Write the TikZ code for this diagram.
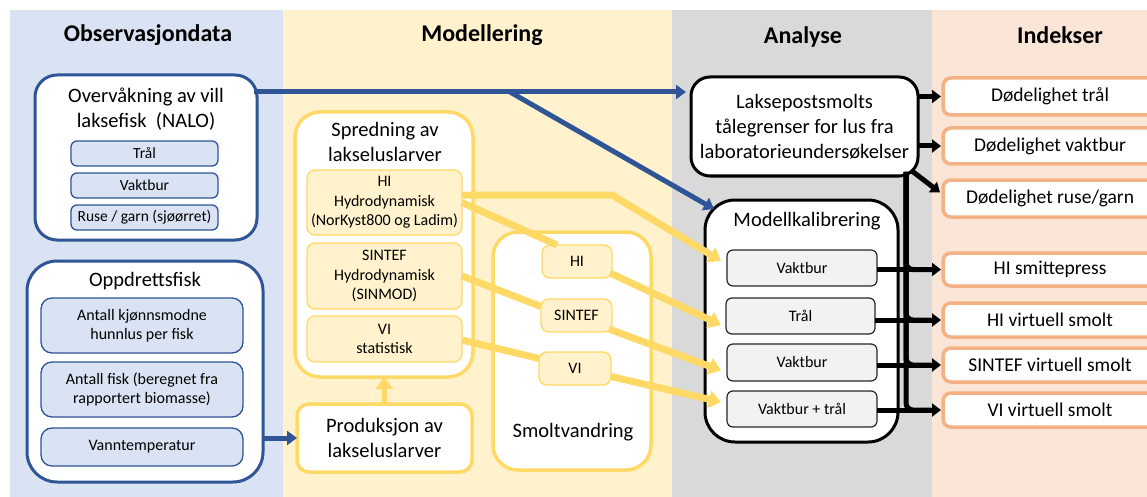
\documentclass[tikz,border=0pt]{standalone}
\usepackage{fontspec}
\setmainfont{Carlito}
\usetikzlibrary{arrows.meta,calc}
\definecolor{colA}{HTML}{DAE3F3}
\definecolor{colB}{HTML}{FFF2CC}
\definecolor{colC}{HTML}{D9D9D9}
\definecolor{colD}{HTML}{FBE5D6}
\definecolor{bluS}{HTML}{2F5597}
\definecolor{yelS}{HTML}{FFD966}
\definecolor{oraS}{HTML}{F4B183}
\definecolor{grayF}{HTML}{F2F2F2}
\begin{document}
\begin{tikzpicture}[x=1pt,y=-1pt,
  every node/.style={inner sep=0pt, outer sep=0pt, text=black},
  wh/.style 2 args={minimum width=#1pt, minimum height=#2pt},
  ttl/.style={font=\bfseries\fontsize{24}{28}\selectfont},
  txt/.style={font=\fontsize{20.5}{25}\selectfont, align=center},
  outerblue/.style={draw=bluS, line width=3pt, fill=white, rounded corners=22pt},
  innerblue/.style={draw=bluS, line width=1.3pt, fill=colA, rounded corners=6pt, font=\fontsize{15.5}{18}\selectfont, align=center},
  innerblueb/.style={draw=bluS, line width=1.3pt, fill=colA, rounded corners=11pt, font=\fontsize{16}{19}\selectfont, align=center},
  outeryel/.style={draw=yelS, line width=3.5pt, fill=white, rounded corners=25pt},
  inneryel/.style={draw=yelS, line width=1.3pt, fill=colB, rounded corners=8pt, font=\fontsize{16}{19.5}\selectfont, align=center},
  blkbox/.style={draw=black, line width=3pt, fill=white, rounded corners=19pt},
  innergray/.style={draw=black!85, line width=1.2pt, fill=grayF, rounded corners=6pt, font=\fontsize{16}{19}\selectfont},
  idx/.style={draw=oraS, line width=3.5pt, fill=white, rounded corners=8pt, font=\fontsize{19.5}{23}\selectfont},
  bluarr/.style={draw=bluS, line width=5pt, -{Triangle[length=10pt,width=14pt]}},
  yelarr/.style={draw=yelS, line width=7pt, -{Triangle[length=12pt,width=17pt]}},
  yelln/.style={draw=yelS, line width=7pt},
  blkarr/.style={draw=black, line width=5pt, -{Triangle[length=9pt,width=13pt]}},
  blkln/.style={draw=black, line width=5pt}
]
\useasboundingbox (0,0) rectangle (1147,497);
\clip (0,0) rectangle (1147,497);
\fill[white] (0,0) rectangle (1147,497);
\fill[colA] (10,10) rectangle (283,497);
\fill[colB] (283,10) rectangle (672,497);
\fill[colC] (672,10) rectangle (932,497);
\fill[colD] (932,10) rectangle (1147,497);

% titles
\node[ttl] (t1) at (148,35) {Observasjondata};
\node[ttl] (t2) at (482,35) {Modellering};
\node[ttl] (t3) at (803,37) {Analyse};
\node[ttl] (t4) at (1060,35) {Indekser};

% Observasjondata
\node[outerblue, wh={222}{165}] (nalo) at (146,157.5) {};
\node[txt] (nalot) at (146,109.5) {Overvåkning av vill\\laksefisk\ \ (NALO)};
\node[innerblue, wh={147}{25}] (n1) at (144.5,153.5) {Trål};
\node[innerblue, wh={147}{25}] (n2) at (144.5,185.5) {Vaktbur};
\node[innerblue, wh={147}{25}] (n3) at (144.5,217.5) {Ruse / garn (sjøørret)};

\node[outerblue, rounded corners=30pt, wh={236}{221}] (opp) at (145,371.5) {};
\node[txt] (oppt) at (145,281) {Oppdrettsfisk};
\node[innerblueb, wh={202}{55}] (o1) at (142,325.5) {Antall kjønnsmodne\\hunnlus per fisk};
\node[innerblueb, wh={202}{55}] (o2) at (142,389.5) {Antall fisk (beregnet fra\\rapportert biomasse)};
\node[innerblueb, wh={202}{38}] (o3) at (142,447) {Vanntemperatur};

% Modellering
\node[outeryel, wh={178}{265}] (spr) at (384,244.5) {};
\node[txt] (sprt) at (385,141.5) {Spredning av\\lakseluslarver};
\node[inneryel, wh={155}{65}] (his) at (384.5,202.5) {HI\\Hydrodynamisk\\(NorKyst800 og Ladim)};
\node[inneryel, wh={155}{66}] (sins) at (384.5,276) {SINTEF\\Hydrodynamisk\\(SINMOD)};
\node[inneryel, wh={155}{46}] (vis) at (384.5,339) {VI\\statistisk};

\node[outeryel, txt, rounded corners=12pt, wh={175}{68}] (prod) at (384.5,438) {Produksjon av\\lakseluslarver};

\node[outeryel, wh={158}{238}] (smolt) at (572,351) {};
\node[txt] (smoltt) at (573,432) {Smoltvandring};
\node[inneryel, wh={70}{33}] (hism) at (577,261.5) {HI};
\node[inneryel, wh={71}{33}] (sinsm) at (576.5,315.5) {SINTEF};
\node[inneryel, wh={72}{33}] (vism) at (575,368.5) {VI};

% Analyse
\node[blkbox, txt, wh={227}{99}] (lakse) at (804.5,126.5) {Laksepostsmolts\\tålegrenser for lus fra\\laboratorieundersøkelser};
\node[blkbox, rounded corners=30pt, wh={193}{242}] (mod) at (801.5,321) {};
\node[txt] (modt) at (807,221) {Modellkalibrering};
\node[innergray, wh={150}{36}] (m1) at (802,268) {Vaktbur};
\node[innergray, wh={149}{36}] (m2) at (800.5,316) {Trål};
\node[innergray, wh={150}{37}] (m3) at (802,362.5) {Vaktbur};
\node[innergray, wh={150}{36}] (m4) at (802,409) {Vaktbur + trål};

% Indekser
\node[idx, wh={214}{37}] (d1) at (1050,96.5) {Dødelighet trål};
\node[idx, wh={214}{36}] (d2) at (1050,146) {Dødelighet vaktbur};
\node[idx, wh={214}{37}] (d3) at (1050,198.5) {Dødelighet ruse/garn};
\node[idx, wh={214}{33}] (i1) at (1050,269.5) {HI smittepress};
\node[idx, wh={214}{34}] (i2) at (1050,320) {HI virtuell smolt};
\node[idx, wh={214}{34}] (i3) at (1050,365) {SINTEF virtuell smolt};
\node[idx, wh={214}{34}] (i4) at (1050,410) {VI virtuell smolt};

% blue connectors
\coordinate (br) at (510,92);
\draw[bluarr] ($(nalo.east |- 0,92)+(-3,0)$) -- ($(lakse.west |- 0,92)+(-5,0)$);
\draw[bluarr] (br) -- ($(mod.north west)+(9,9)$);
\draw[bluarr] (opp.east |- prod.west) -- (prod.west);

% yellow connectors
\draw[yelarr] (his.east |- 0,195) -- (hism.east |- 0,195) -- ($(m1.west)+(-6,-7)$);
\draw[yelln] (his.east) -- ($(hism.north west)+(15,0)$);
\draw[yelarr] ($(hism.south east)+(-2,-5)$) -- ($(m2.west)+(-5,9)$);
\draw[yelln] (sins.east) -- ($(sinsm.west)+(0,-9)$);
\draw[yelarr] ($(sinsm.south east)+(-3,-3)$) -- ($(m3.west)+(-6,8)$);
\draw[yelln] ($(vis.east)+(0,1)$) -- ($(vism.west)+(0,-10)$);
\draw[yelarr] ($(vism.east)+(0,8)$) -- ($(m4.west)+(-6,-7)$);
\draw[yelarr, line width=5pt] (prod.north) -- (spr.south);

% black connectors
\draw[blkarr] (lakse.east |- d1.west) -- ($(d1.west)+(-2,0)$);
\draw[blkarr] (lakse.east |- d2.west) -- ($(d2.west)+(-2,0)$);
\draw[blkarr] ($(lakse.south east)+(-6,-5)$) -- ($(d3.west)+(-3,-6)$);
\coordinate (vt) at ($(lakse.south east)+(-12,-4)$);
\foreach \t in {i1,i2,i3,i4}{
  \draw[blkln, rounded corners=7pt] (vt) |- ($(\t.west)+(-12,0)$);
}
\draw[blkarr] (m1.east |- i1.west) -- ($(i1.west)+(-2,0)$);
\draw[blkarr] (m2.east |- i2.west) -- ($(i2.west)+(-2,0)$);
\draw[blkarr] (m3.east |- i3.west) -- ($(i3.west)+(-2,0)$);
\draw[blkarr] (m4.east |- i4.west) -- ($(i4.west)+(-2,0)$);
\end{tikzpicture}
\end{document}
